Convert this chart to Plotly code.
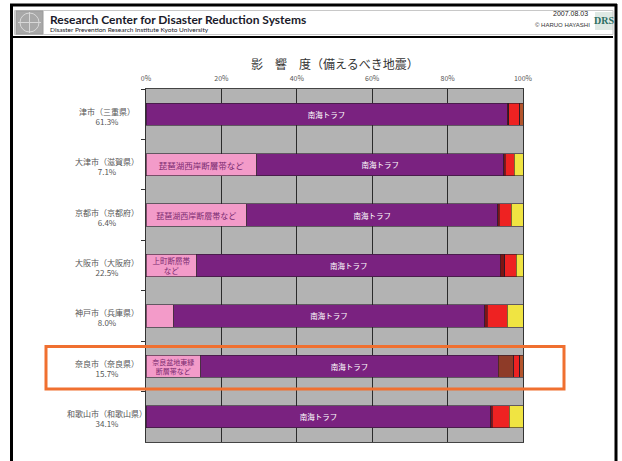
import plotly.graph_objects as go

# ---------------- data ----------------
cities = ["津市（三重県）", "大津市（滋賀県）", "京都市（京都府）", "大阪市（大阪府）",
          "神戸市（兵庫県）", "奈良市（奈良県）", "和歌山市（和歌山県）"]
city_share = ["61.3%", "7.1%", "6.4%", "22.5%", "8.0%", "15.7%", "34.1%"]

inland_fault = [0, 29.4, 26.7, 13.5, 7.3, 14.5, 0]          # pink
inland_text = ["", "琵琶湖西岸断層帯など", "琵琶湖西岸断層帯など", "上町断層帯<br>など",
               "", "奈良盆地東縁<br>断層帯など", ""]
nankai = [95.8, 65.5, 66.6, 80.5, 82.5, 78.9, 91.5]         # purple
nankai_text = ["南海トラフ"] * 7
dark_red = [0.4, 0.4, 0.4, 1.2, 0.7, 0.0, 0.4]
brown = [0, 0, 0, 0, 0, 4.1, 0]
red = [2.9, 2.4, 3.2, 3.0, 5.3, 1.6, 4.5]
yellow = [0, 2.3, 3.1, 1.8, 4.2, 0, 3.6]
tail = [0.9, 0, 0, 0, 0, 0.9, 0]

x_ticks = [0, 20, 40, 60, 80, 100]
x_tick_text = ["0%", "20%", "40%", "60%", "80%", "100%"]

title_text = "影　響　度（備えるべき地震）"

# ---------------- figure ----------------
W, H = 622, 461
L, R, T, B = 146, 99, 89, 19
PW, PH = W - L - R, H - T - B


def px(xp):
    return (xp - L) / PW


def py(yp):
    return (H - B - yp) / PH


JP = "Noto Sans CJK JP"
fig = go.Figure()

series = [
    (inland_fault, inland_text, "#F39BC9", "#7a2a70", [7.5, 8.5, 8.0, 7.5, 7.5, 7.0, 7.5]),
    (nankai, nankai_text, "#7A2280", "white", 7.5),
    (dark_red, None, "#7d1414", None, 7),
    (brown, None, "#8E3B28", None, 7),
    (red, None, "#EE2222", None, 7),
    (yellow, None, "#F0E442", None, 7),
    (tail, None, "#B4552C", None, 7),
]
for vals, txt, col, tcol, tsize in series:
    fig.add_trace(go.Bar(
        y=cities, x=vals, orientation="h",
        marker=dict(color=col, line=dict(color="#2a1a2a", width=0.6)),
        text=txt if txt else None,
        textposition="inside" if txt else "none",
        insidetextanchor="middle",
        constraintext="none",
        textfont=dict(family=JP, size=tsize, color=tcol if tcol else "white"),
        hoverinfo="skip",
        showlegend=False,
    ))

fig.update_layout(
    width=W, height=H, autosize=False,
    margin=dict(l=L, r=R, t=T, b=B, pad=0),
    barmode="stack", bargap=0.56,
    paper_bgcolor="white", plot_bgcolor="#B3B3B3",
    font=dict(family=JP, color="#444"),
)
fig.update_xaxes(
    range=[0, 100], side="top", tickmode="array", tickvals=x_ticks, ticktext=x_tick_text,
    tickfont=dict(size=7, color="#555"), ticklabelstandoff=4,
    showgrid=True, gridcolor="#2b2b2b", gridwidth=1,
    zeroline=False, showline=True, mirror=True, linecolor="#444", linewidth=1,
    ticks="", fixedrange=True,
)
fig.update_yaxes(
    autorange="reversed", tickson="boundaries", ticks="outside", ticklen=4,
    tickcolor="#333", showticklabels=False, showgrid=False,
    showline=True, mirror=True, linecolor="#333", linewidth=1,
)

# y category labels (two centred lines)
for c, s in zip(cities, city_share):
    fig.add_annotation(
        x=px(107), xref="paper", y=c, yref="y", yshift=-2,
        text=f"{c}<br>{s}", showarrow=False, align="center",
        xanchor="center", yanchor="middle",
        font=dict(family=JP, size=8, color="#555"),
    )

# chart title
fig.add_annotation(
    x=px(335), y=py(63), xref="paper", yref="paper", text=title_text,
    showarrow=False, xanchor="center", yanchor="middle",
    font=dict(family=JP, size=12, color="#333"),
)

# header texts
fig.add_annotation(
    x=px(48), y=py(19), xref="paper", yref="paper",
    text="<b>Research Center for Disaster Reduction Systems</b>",
    showarrow=False, xanchor="left", yanchor="middle",
    font=dict(family="Lato", size=12, color="#1a1a2a"),
)
fig.add_annotation(
    x=px(48), y=py(29), xref="paper", yref="paper",
    text="Disaster Prevention Research Institute Kyoto University",
    showarrow=False, xanchor="left", yanchor="middle",
    font=dict(family="Lato", size=6.5, color="#1a1a2a"),
)
fig.add_annotation(
    x=px(590), y=py(14), xref="paper", yref="paper", text="2007.08.03",
    showarrow=False, xanchor="right", yanchor="middle",
    font=dict(family="Liberation Sans", size=7, color="#222"),
)
fig.add_annotation(
    x=px(592), y=py(25), xref="paper", yref="paper", text="© HARUO HAYASHI",
    showarrow=False, xanchor="right", yanchor="middle",
    font=dict(family="Liberation Sans", size=6, color="#333"),
)
fig.add_annotation(
    x=px(604), y=py(21), xref="paper", yref="paper", text="<b>DRS</b>",
    showarrow=False, xanchor="center", yanchor="middle",
    font=dict(family="Liberation Serif", size=10, color="#2d6e62"),
)

P = dict(xref="paper", yref="paper")
shapes = []
# outer frame
shapes.append(dict(type="line", x0=px(10), x1=px(617), y0=py(5), y1=py(5),
                   line=dict(color="black", width=3), **P))
shapes.append(dict(type="line", x0=px(11.5), x1=px(11.5), y0=py(4), y1=py(462),
                   line=dict(color="black", width=3), **P))
shapes.append(dict(type="line", x0=px(616), x1=px(616), y0=py(4), y1=py(462),
                   line=dict(color="black", width=3), **P))
# header thin box and thick rule
shapes.append(dict(type="rect", x0=px(14.5), x1=px(613), y0=py(10.5), y1=py(34.5),
                   line=dict(color="#c8c8c8", width=1), **P))
shapes.append(dict(type="line", x0=px(13), x1=px(613), y0=py(37), y1=py(37),
                   line=dict(color="black", width=2), **P))
# left logo
shapes.append(dict(type="rect", x0=px(16), x1=px(43), y0=py(11), y1=py(34),
                   fillcolor="#a8a8a8", line=dict(color="#9a9a9a", width=1), **P))
shapes.append(dict(type="circle", x0=px(20), x1=px(39), y0=py(13), y1=py(32),
                   line=dict(color="#d8d8d8", width=1), **P))
shapes.append(dict(type="line", x0=px(29.5), x1=px(29.5), y0=py(12), y1=py(33),
                   line=dict(color="#d8d8d8", width=1), **P))
shapes.append(dict(type="line", x0=px(18), x1=px(41), y0=py(22.5), y1=py(22.5),
                   line=dict(color="#d8d8d8", width=1), **P))
# right logo background
shapes.append(dict(type="rect", x0=px(595), x1=px(613), y0=py(12), y1=py(30),
                   fillcolor="#dfe9e4", line=dict(width=0), layer="below", **P))
# orange highlight box
shapes.append(dict(type="rect", x0=px(46), x1=px(564), y0=py(346.5), y1=py(389),
                   line=dict(color="#F07030", width=3), layer="above", **P))
fig.update_layout(shapes=shapes)

fig.write_html("out.html")
